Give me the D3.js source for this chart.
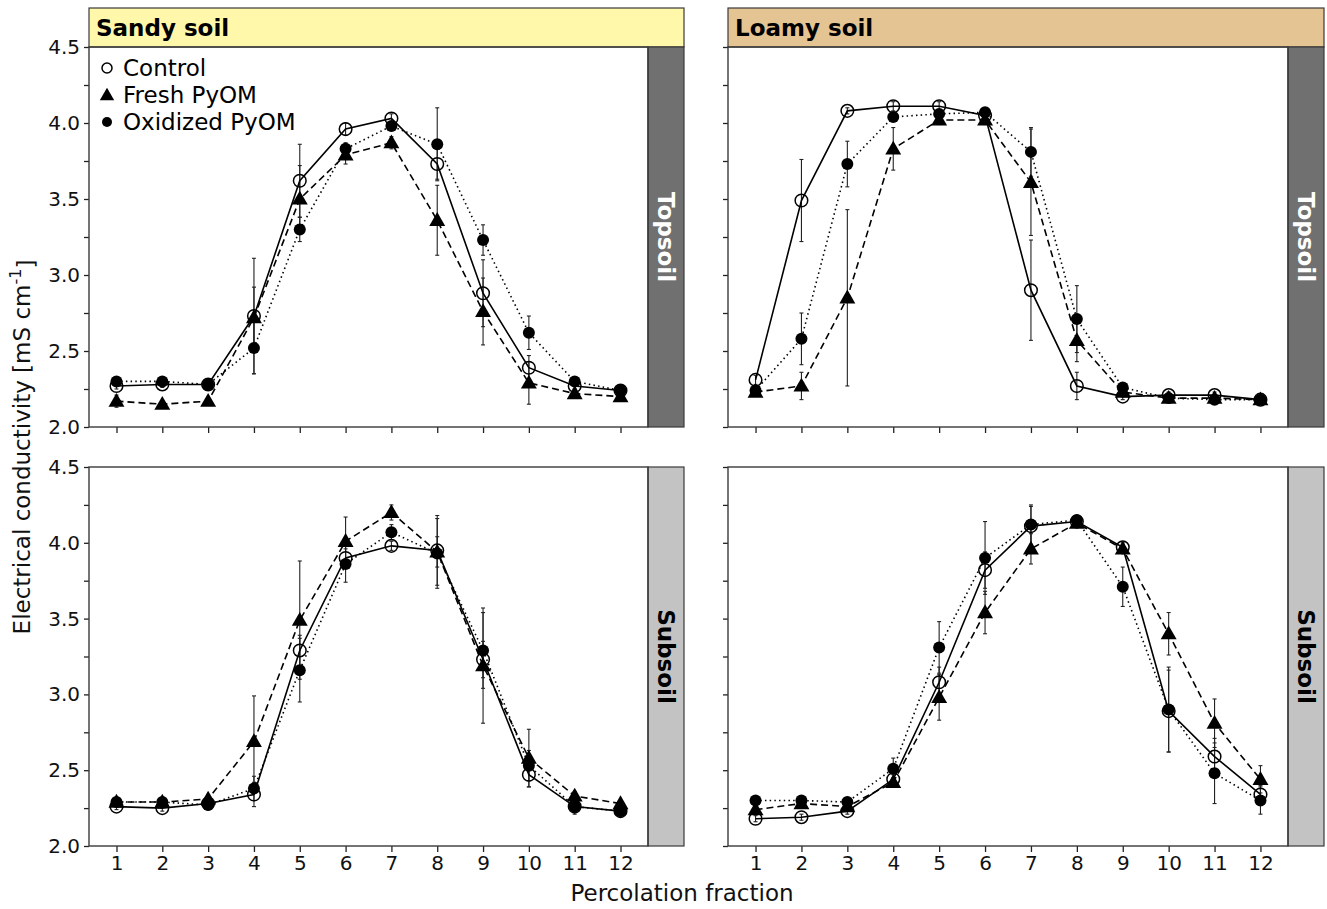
<!DOCTYPE html>
<html><head><meta charset="utf-8">
<script src="https://cdn.jsdelivr.net/npm/d3@7"></script>
<style>body{margin:0;background:#fff}svg text{font-family:"DejaVu Sans",sans-serif}</style>
</head><body>
<svg id="c" width="1327" height="909"></svg>
<script>
const fractions = [1,2,3,4,5,6,7,8,9,10,11,12];
const yTicks = [2.0,2.5,3.0,3.5,4.0,4.5];
const seriesNames = ["Control","Fresh PyOM","Oxidized PyOM"];
const soils = ["Sandy soil","Loamy soil"];
const layers = ["Topsoil","Subsoil"];

// Sandy topsoil
const sandyTopControl = [2.27,2.28,2.28,2.73,3.62,3.96,4.03,3.73,2.88,2.39,2.27,2.24];
const sandyTopFresh   = [2.17,2.15,2.17,2.72,3.50,3.79,3.87,3.36,2.76,2.29,2.22,2.20];
const sandyTopOxid    = [2.30,2.30,2.28,2.52,3.30,3.83,3.98,3.86,3.23,2.62,2.30,2.24];
const sandyTopControlErr = [0.02,0.02,0.02,0.38,0.24,0.04,0.03,0.10,0.22,0.08,0.03,0.02];
const sandyTopFreshErr   = [0.04,0.02,0.02,0.20,0.22,0.06,0.04,0.23,0.22,0.14,0.03,0.02];
const sandyTopOxidErr    = [0.02,0.02,0.02,0.17,0.08,0.04,0.03,0.24,0.10,0.11,0.03,0.02];

// Loamy topsoil
const loamyTopControl = [2.31,3.49,4.08,4.11,4.11,4.05,2.90,2.27,2.20,2.21,2.21,2.18];
const loamyTopFresh   = [2.23,2.27,2.85,3.83,4.02,4.02,3.61,2.57,2.23,2.19,2.19,2.18];
const loamyTopOxid    = [2.24,2.58,3.73,4.04,4.06,4.07,3.81,2.71,2.26,2.19,2.18,2.18];
const loamyTopControlErr = [0.03,0.27,0.02,0.03,0.03,0.03,0.33,0.09,0.02,0.02,0.02,0.02];
const loamyTopFreshErr   = [0.02,0.09,0.58,0.14,0.03,0.03,0.35,0.14,0.02,0.02,0.02,0.02];
const loamyTopOxidErr    = [0.02,0.17,0.15,0.03,0.03,0.03,0.16,0.22,0.03,0.02,0.02,0.02];

// Sandy subsoil
const sandySubControl = [2.26,2.25,2.28,2.34,3.29,3.90,3.98,3.95,3.23,2.47,2.26,2.23];
const sandySubFresh   = [2.29,2.29,2.31,2.69,3.49,4.01,4.20,3.94,3.19,2.58,2.33,2.28];
const sandySubOxid    = [2.29,2.29,2.27,2.38,3.16,3.86,4.07,3.93,3.29,2.53,2.26,2.23];
const sandySubControlErr = [0.02,0.02,0.02,0.08,0.10,0.06,0.03,0.23,0.12,0.08,0.03,0.03];
const sandySubFreshErr   = [0.02,0.02,0.03,0.30,0.39,0.16,0.05,0.10,0.38,0.19,0.03,0.02];
const sandySubOxidErr    = [0.02,0.02,0.03,0.08,0.21,0.12,0.05,0.23,0.25,0.10,0.05,0.04];

// Loamy subsoil
const loamySubControl = [2.18,2.19,2.23,2.44,3.08,3.82,4.11,4.14,3.97,2.89,2.59,2.34];
const loamySubFresh   = [2.24,2.28,2.26,2.42,2.98,3.54,3.96,4.13,3.96,3.40,2.81,2.44];
const loamySubOxid    = [2.30,2.30,2.29,2.51,3.31,3.90,4.12,4.15,3.71,2.90,2.48,2.30];
const loamySubControlErr = [0.02,0.02,0.02,0.03,0.10,0.12,0.13,0.02,0.03,0.27,0.12,0.06];
const loamySubFreshErr   = [0.02,0.02,0.02,0.03,0.15,0.14,0.10,0.02,0.03,0.14,0.16,0.09];
const loamySubOxidErr    = [0.02,0.02,0.02,0.07,0.17,0.24,0.13,0.02,0.13,0.28,0.20,0.09];

const panels = [
  {col:0,row:0,series:[[sandyTopControl,sandyTopControlErr],[sandyTopFresh,sandyTopFreshErr],[sandyTopOxid,sandyTopOxidErr]]},
  {col:1,row:0,series:[[loamyTopControl,loamyTopControlErr],[loamyTopFresh,loamyTopFreshErr],[loamyTopOxid,loamyTopOxidErr]]},
  {col:0,row:1,series:[[sandySubControl,sandySubControlErr],[sandySubFresh,sandySubFreshErr],[sandySubOxid,sandySubOxidErr]]},
  {col:1,row:1,series:[[loamySubControl,loamySubControlErr],[loamySubFresh,loamySubFreshErr],[loamySubOxid,loamySubOxidErr]]}
];

const colX = [[89,648],[728,1288]];
const stripW = 36;
const rowY = [[47,427],[467,846]];
const headerColors = ["#fff7aa","#e5c494"];
const stripColors = ["#707070","#c3c3c3"];
const stripText = ["#ffffff","#000000"];
const frame = "#3a3a3a";
const dashes = [null,"7,4","1.5,3.2"];

const svg = d3.select("#c");

panels.forEach(p=>{
  const [x0,x1] = colX[p.col];
  const [y0,y1] = rowY[p.row];
  const x = d3.scaleLinear().domain([0.4,12.6]).range([x0,x1]);
  const y = d3.scaleLinear().domain([2.0,4.5]).range([y1,y0]);
  const g = svg.append("g");

  if(p.row===0){
    g.append("rect").attr("x",x0).attr("y",8).attr("width",x1+stripW-x0).attr("height",y0-8)
      .attr("fill",headerColors[p.col]).attr("stroke",frame).attr("stroke-width",1.2);
    g.append("text").attr("x",x0+7).attr("y",(8+y0)/2).attr("dy","0.36em")
      .attr("font-size",23).attr("font-weight","bold").text(soils[p.col]);
  }
  g.append("rect").attr("x",x1).attr("y",y0).attr("width",stripW).attr("height",y1-y0)
    .attr("fill",stripColors[p.row]).attr("stroke",frame).attr("stroke-width",1.2);
  g.append("text").attr("transform",`translate(${x1+stripW/2},${(y0+y1)/2}) rotate(90)`)
    .attr("text-anchor","middle").attr("dy","0.36em").attr("font-size",23).attr("font-weight","bold")
    .attr("fill",stripText[p.row]).text(layers[p.row]);

  const ya = d3.axisLeft(y).tickValues(d3.range(2.0,4.51,0.25)).tickSize(5)
    .tickFormat(d=> (p.col===0 && Math.abs(d*2-Math.round(d*2))<1e-6) ? d3.format(".1f")(d) : "");
  const yg = g.append("g").attr("transform",`translate(${x0},0)`).call(ya);
  const xa = d3.axisBottom(x).tickValues(fractions).tickSize(6)
    .tickFormat(d=> p.row===1 ? d : "");
  const xg = g.append("g").attr("transform",`translate(0,${y1})`).call(xa);
  [yg,xg].forEach(a=>{
    a.select(".domain").remove();
    a.selectAll(".tick line").attr("stroke","#222").attr("stroke-width",1.3);
    a.selectAll(".tick text").attr("font-size",20).attr("fill","#111");
  });
  yg.selectAll(".tick text").attr("x",-9);
  xg.selectAll(".tick text").attr("y",10);

  g.append("rect").attr("x",x0).attr("y",y0).attr("width",x1-x0).attr("height",y1-y0)
    .attr("fill","none").attr("stroke",frame).attr("stroke-width",1.4);

  const line = d3.line().x((d,i)=>x(fractions[i])).y(d=>y(d));
  p.series.forEach(([vals,errs])=>{
    vals.forEach((v,i)=>{
      const cx = x(fractions[i]);
      const e = errs[i];
      const eg = g.append("g").attr("stroke","#222").attr("stroke-width",1.1);
      eg.append("line").attr("x1",cx).attr("x2",cx).attr("y1",y(v-e)).attr("y2",y(v+e));
      [v-e,v+e].forEach(b=>eg.append("line").attr("x1",cx-2).attr("x2",cx+2).attr("y1",y(b)).attr("y2",y(b)));
    });
  });
  p.series.forEach(([vals],si)=>{
    g.append("path").datum(vals).attr("d",line).attr("fill","none").attr("stroke","#000")
      .attr("stroke-width",1.6).attr("stroke-dasharray",dashes[si]);
  });
  const tri = d3.symbol().type(d3.symbolTriangle).size(110);
  p.series.forEach(([vals],si)=>{
    vals.forEach((v,i)=>{
      const cx = x(fractions[i]), cy = y(v);
      if(si===0) g.append("circle").attr("cx",cx).attr("cy",cy).attr("r",6.3).attr("fill","none").attr("stroke","#000").attr("stroke-width",1.5);
      else if(si===1) g.append("path").attr("d",tri).attr("transform",`translate(${cx},${cy+1})`).attr("fill","#000");
      else g.append("circle").attr("cx",cx).attr("cy",cy).attr("r",6).attr("fill","#000");
    });
  });

  if(p.col===0 && p.row===0){
    const ly = [68,95,122];
    const lg = svg.append("g");
    lg.append("circle").attr("cx",107).attr("cy",ly[0]).attr("r",5).attr("fill","none").attr("stroke","#000").attr("stroke-width",1.5);
    lg.append("path").attr("d",d3.symbol().type(d3.symbolTriangle).size(90)).attr("transform",`translate(107,${ly[1]+1})`).attr("fill","#000");
    lg.append("circle").attr("cx",107).attr("cy",ly[2]).attr("r",5).attr("fill","#000");
    seriesNames.forEach((n,i)=>lg.append("text").attr("x",123).attr("y",ly[i]).attr("dy","0.36em").attr("font-size",23).text(n));
  }
});

const yl = svg.append("text").attr("transform","translate(22,447) rotate(-90)").attr("text-anchor","middle")
  .attr("dy","0.36em").attr("font-size",23).attr("fill","#111");
yl.append("tspan").text("Electrical conductivity [mS cm");
yl.append("tspan").attr("dy","-0.55em").attr("font-size",16).text("-1");
yl.append("tspan").attr("dy","0.55em").text("]");
svg.append("text").attr("x",682).attr("y",893).attr("text-anchor","middle").attr("dy","0.36em")
  .attr("font-size",23).attr("fill","#111").text("Percolation fraction");
</script>
</body></html>
